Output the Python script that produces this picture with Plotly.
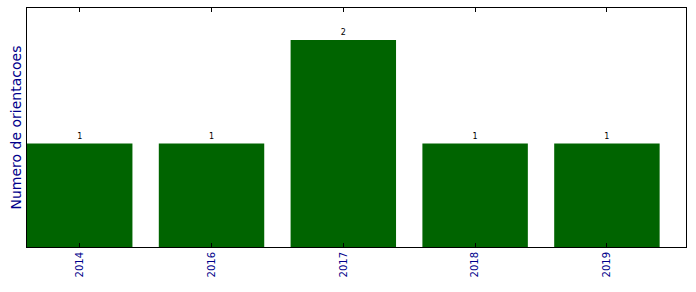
import plotly.graph_objects as go

years = ["2014", "2016", "2017", "2018", "2019"]
counts = [1, 1, 2, 1, 1]
labels = [str(c) for c in counts]

fig = go.Figure()
fig.add_trace(go.Bar(
    x=years, y=counts, width=0.8,
    marker=dict(color="#006400", line=dict(width=0)),
    text=labels, textposition="outside", cliponaxis=False,
    textfont=dict(family="DejaVu Sans", size=8, color="black"),
))

fig.update_layout(
    width=696, height=292,
    margin=dict(l=27, r=10, t=8, b=45),
    paper_bgcolor="white", plot_bgcolor="white",
    showlegend=False,
    font=dict(family="DejaVu Sans"),
    bargap=0.2,
)
fig.update_xaxes(
    type="category", range=[-0.4, 4.6],
    showline=True, linecolor="black", linewidth=1, mirror="ticks",
    ticks="inside", ticklen=4, tickcolor="black", tickwidth=1,
    tickangle=-90, tickfont=dict(size=10, color="#00008B"),
    showgrid=False, zeroline=False,
)
fig.update_yaxes(
    range=[0, 2.31],
    showline=True, linecolor="black", linewidth=1, mirror=True,
    showticklabels=False, ticks="", showgrid=False, zeroline=False,
)
fig.add_annotation(
    text="Numero de orientacoes", xref="paper", yref="paper",
    x=(15 - 27) / 659, y=0.5, xanchor="center", yanchor="middle",
    textangle=-90, showarrow=False,
    font=dict(family="DejaVu Sans", size=14, color="#00008B"),
)
fig.write_html("out.html")
